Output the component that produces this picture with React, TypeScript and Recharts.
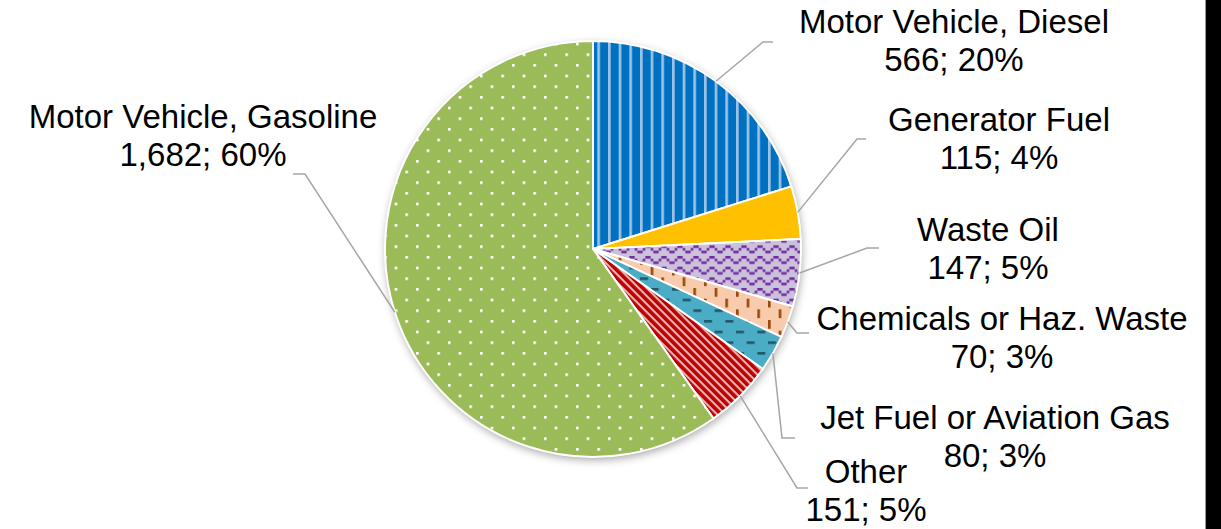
import React from 'react';
import { PieChart, Pie, Cell } from 'recharts';

const CATEGORIES = [
  'Motor Vehicle, Diesel',
  'Generator Fuel',
  'Waste Oil',
  'Chemicals or Haz. Waste',
  'Jet Fuel or Aviation Gas',
  'Other',
  'Motor Vehicle, Gasoline',
];
const VALUES = [566, 115, 147, 70, 80, 151, 1682];
const PERCENT_LABELS = ['20%', '4%', '5%', '3%', '3%', '5%', '60%'];

const FILLS = [
  'url(#p-diesel)',
  '#FFC000',
  'url(#p-waste)',
  'url(#p-chem)',
  'url(#p-jet)',
  'url(#p-other)',
  'url(#p-gas)',
];

// label layout offsets relative to pie center (elbow, horizontal end, text center, first baseline)
const LABEL_LAYOUT = [
  { ex: 170, ey: -207, hx: 180, tx: 361, ty: -216 },
  { ex: 264, ey: -110, hx: 273, tx: 406, ty: -118 },
  { ex: 274, ey: -1, hx: 286, tx: 395, ty: -8 },
  { ex: 204, ey: 84, hx: 216, tx: 409, ty: 81 },
  { ex: 189, ey: 189, hx: 202, tx: 402, ty: 180 },
  { ex: 204, ey: 239, hx: 215, tx: 273, ty: 234 },
  { ex: -288, ey: -75, hx: -300, tx: -390, ty: -121 },
];

const data = CATEGORIES.map((name, i) => ({ name, value: VALUES[i], pct: PERCENT_LABELS[i] }));
const bgData = [{ name: 'bg', value: 1 }];

const U = 8 / 3;

const Defs = () => (
  <svg width={0} height={0} style={{ position: 'absolute' }}>
    <defs>
      <filter id="pieShadow" x="-20%" y="-20%" width="140%" height="140%">
        <feDropShadow dx={1} dy={3} stdDeviation={4} floodColor="#000" floodOpacity={0.35} />
      </filter>
      <pattern id="p-diesel" patternUnits="userSpaceOnUse" width={4 * U} height={10}>
        <rect x={0} y={0} width={4 * U} height={10} fill="#0070C0" />
        <rect x={0} y={0} width={U} height={10} fill="#9DC3E6" />
      </pattern>
      <pattern id="p-waste" patternUnits="userSpaceOnUse" width={6 * U} height={4 * U}>
        <rect x={0} y={0} width={6 * U} height={4 * U} fill="#CCC1DA" />
        <rect x={2 * U} y={0} width={2 * U} height={U} fill="#7030A0" />
        <rect x={U} y={U} width={U} height={U} fill="#7030A0" />
        <rect x={4 * U} y={U} width={U} height={U} fill="#7030A0" />
        <rect x={0} y={2 * U} width={U} height={U} fill="#7030A0" />
        <rect x={5 * U} y={2 * U} width={U} height={U} fill="#7030A0" />
      </pattern>
      <pattern id="p-chem" patternUnits="userSpaceOnUse" width={8 * U} height={8 * U}>
        <rect x={0} y={0} width={8 * U} height={8 * U} fill="#F8CBAD" />
        <rect x={0} y={0} width={U} height={3.3 * U} fill="#9C4A0C" />
        <rect x={4 * U} y={4 * U} width={U} height={3.3 * U} fill="#9C4A0C" />
      </pattern>
      <pattern id="p-jet" patternUnits="userSpaceOnUse" width={8 * U} height={8 * U}>
        <rect x={0} y={0} width={8 * U} height={8 * U} fill="#4BACC6" />
        <rect x={0} y={0} width={3 * U} height={U} fill="#215968" />
        <rect x={4 * U} y={4 * U} width={3 * U} height={U} fill="#215968" />
      </pattern>
      <pattern id="p-other" patternUnits="userSpaceOnUse" width={5.66} height={20} patternTransform="rotate(-45)">
        <rect x={0} y={0} width={5.66} height={20} fill="#E6B9B8" />
        <rect x={0} y={0} width={3.6} height={20} fill="#C00000" />
      </pattern>
      <pattern id="p-gas" patternUnits="userSpaceOnUse" width={8 * U} height={8 * U}>
        <rect x={0} y={0} width={8 * U} height={8 * U} fill="#9BBB59" />
        <rect x={0} y={0} width={U} height={U} fill="#FFFFFF" />
        <rect x={4 * U} y={4 * U} width={U} height={U} fill="#FFFFFF" />
      </pattern>
    </defs>
  </svg>
);

const RAD = Math.PI / 180;

const renderLabel = (props: any) => {
  const { cx, cy, midAngle, outerRadius, index, value } = props;
  const L = LABEL_LAYOUT[index];
  if (!L) return null;
  const sx = cx + outerRadius * Math.cos(-midAngle * RAD);
  const sy = cy + outerRadius * Math.sin(-midAngle * RAD);
  const ex = cx + L.ex;
  const ey = cy + L.ey;
  const hx = cx + L.hx;
  const tx = cx + L.tx;
  const ty = cy + L.ty;
  const valText = Number(value).toLocaleString('en-US') + '; ' + PERCENT_LABELS[index];
  return (
    <g key={'lbl' + index}>
      <polyline
        points={`${sx},${sy} ${ex},${ey} ${hx},${ey}`}
        fill="none"
        stroke="#A6A6A6"
        strokeWidth={1.5}
      />
      <text
        x={tx}
        y={ty}
        textAnchor="middle"
        fontFamily="'Liberation Sans', Arial, sans-serif"
        fontSize={33}
        fill="#000000"
      >
        <tspan x={tx} y={ty}>{CATEGORIES[index]}</tspan>
        <tspan x={tx} y={ty + 38.4}>{valText}</tspan>
      </text>
    </g>
  );
};

export default function App() {
  return (
    <div style={{ position: 'absolute', left: 0, top: 0, width: 1221, height: 529, background: '#FFFFFF', overflow: 'hidden' }}>
      <Defs />
      <PieChart width={1205} height={529} margin={{ top: 0, right: 0, bottom: 0, left: 0 }}>
        <Pie
          data={bgData}
          dataKey="value"
          cx={593}
          cy={249}
          outerRadius={208}
          innerRadius={0}
          startAngle={90}
          endAngle={-270}
          stroke="none"
          isAnimationActive={false}
          label={false}
          labelLine={false}
        >
          <Cell fill="#FFFFFF" filter="url(#pieShadow)" />
        </Pie>
        <Pie
          data={data}
          dataKey="value"
          nameKey="name"
          cx={593}
          cy={249}
          outerRadius={208}
          innerRadius={0}
          startAngle={90}
          endAngle={-270}
          stroke="#FFFFFF"
          strokeWidth={2}
          isAnimationActive={false}
          label={renderLabel}
          labelLine={false}
        >
          {data.map((d, i) => (
            <Cell key={d.name} fill={FILLS[i]} />
          ))}
        </Pie>
      </PieChart>
      <div style={{ position: 'absolute', left: 1205, top: 0, width: 1, height: 529, background: '#9A9A9A' }} />
      <div style={{ position: 'absolute', left: 1206, top: 0, width: 15, height: 529, background: '#000000' }} />
    </div>
  );
}
